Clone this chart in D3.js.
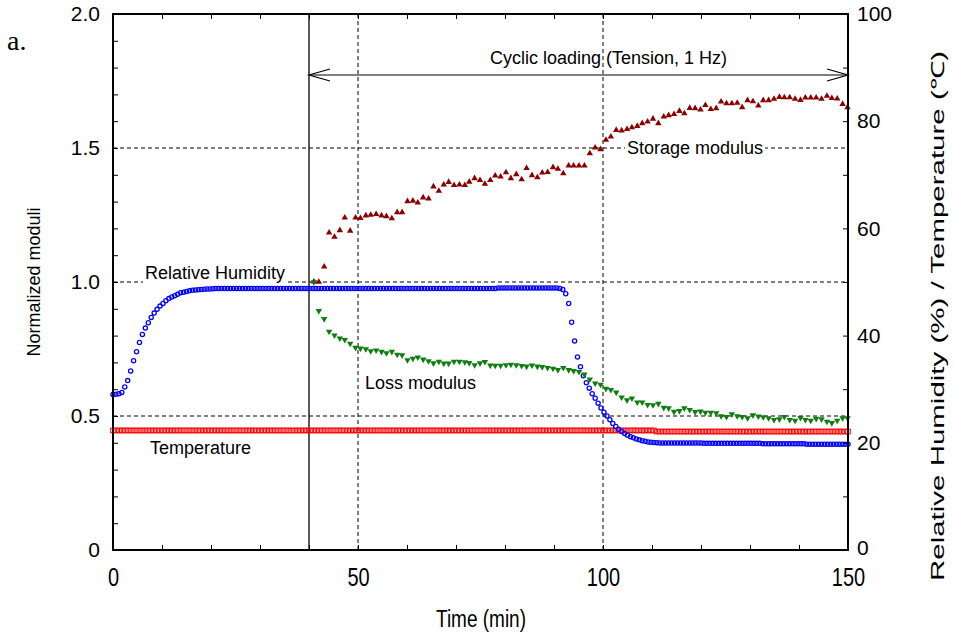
<!DOCTYPE html>
<html><head><meta charset="utf-8">
<script src="https://cdn.jsdelivr.net/npm/d3@7"></script>
<style>
body{margin:0;background:#fff;}
svg text{font-family:"Liberation Sans",Arial,sans-serif;fill:#000;}
</style></head>
<body><svg id="c" width="954" height="633"></svg>
<script>
// ---- data ----
const xTickLabels = [0, 50, 100, 150];
const yLeftLabels = [0, 0.5, 1.0, 1.5, 2.0];
const yRightLabels = [0, 20, 40, 60, 80, 100];
const gridY = [0.5, 1.0, 1.5];
const gridX = [50, 100];
const loadStart = 40;

// relative humidity (%) and temperature (C), sampled every envStep minutes from t=0
const envStep = 0.6;
const rh = [
29.0,29.05,29.15,29.4,30.4,31.6,33.4,35.3,37.0,38.7,
40.2,41.4,42.4,43.4,44.2,44.9,45.5,46.0,46.5,46.9,
47.2,47.45,47.7,48.0,48.1,48.25,48.35,48.45,48.5,48.55,
48.6,48.65,48.7,48.7,48.75,48.8,48.8,48.8,48.8,48.8,
48.8,48.8,48.8,48.8,48.8,48.8,48.8,48.8,48.8,48.8,
48.8,48.8,48.8,48.8,48.8,48.8,48.8,48.8,48.8,48.8,
48.8,48.8,48.8,48.8,48.8,48.8,48.8,48.8,48.8,48.8,
48.8,48.8,48.8,48.8,48.8,48.8,48.8,48.8,48.8,48.8,
48.8,48.8,48.8,48.8,48.8,48.8,48.8,48.8,48.8,48.8,
48.8,48.8,48.8,48.8,48.8,48.8,48.8,48.8,48.8,48.8,
48.8,48.8,48.8,48.8,48.8,48.8,48.8,48.8,48.8,48.8,
48.8,48.8,48.8,48.8,48.8,48.8,48.8,48.8,48.8,48.8,
48.8,48.8,48.8,48.8,48.8,48.8,48.8,48.8,48.8,48.8,
48.8,48.9,48.9,48.9,48.9,48.9,48.9,48.9,48.9,48.9,
48.9,48.9,48.9,48.9,48.9,48.9,48.9,48.9,48.9,48.9,
48.9,48.9,48.8,48.6,47.8,46.0,42.5,39.0,36.0,34.2,
32.5,31.2,30.2,29.15,28.3,27.4,26.5,25.7,25.0,24.3,
23.6,23.05,22.55,22.1,21.75,21.4,21.15,20.95,20.7,20.55,
20.4,20.3,20.15,20.1,20.05,20.0,19.95,19.95,19.95,19.95,
19.95,19.95,19.95,19.95,19.95,19.95,19.95,19.95,19.95,19.95,
19.95,19.9,19.9,19.9,19.9,19.9,19.9,19.9,19.9,19.9,
19.9,19.9,19.9,19.9,19.9,19.9,19.9,19.9,19.9,19.9,
19.9,19.8,19.8,19.8,19.8,19.8,19.8,19.8,19.8,19.8,
19.8,19.8,19.8,19.8,19.8,19.8,19.75,19.75,19.75,19.75,
19.75,19.75,19.75,19.75,19.75,19.75,19.75,19.75,19.75,19.75,
19.75
];
const temp = [
22.3,22.3,22.3,22.3,22.3,22.3,22.3,22.3,22.3,22.3,
22.3,22.3,22.3,22.3,22.3,22.3,22.3,22.3,22.3,22.3,
22.3,22.3,22.3,22.3,22.3,22.3,22.3,22.3,22.3,22.3,
22.3,22.3,22.3,22.3,22.3,22.3,22.3,22.3,22.3,22.3,
22.3,22.3,22.3,22.3,22.3,22.3,22.3,22.3,22.3,22.3,
22.3,22.3,22.3,22.3,22.3,22.3,22.3,22.3,22.3,22.3,
22.3,22.3,22.3,22.3,22.3,22.3,22.3,22.3,22.3,22.3,
22.3,22.3,22.3,22.3,22.3,22.3,22.3,22.3,22.3,22.3,
22.3,22.3,22.3,22.3,22.3,22.3,22.3,22.3,22.3,22.3,
22.3,22.3,22.3,22.3,22.3,22.3,22.3,22.3,22.3,22.3,
22.3,22.3,22.3,22.3,22.3,22.3,22.3,22.3,22.3,22.3,
22.3,22.3,22.3,22.3,22.3,22.3,22.3,22.3,22.3,22.3,
22.3,22.3,22.3,22.3,22.3,22.3,22.3,22.3,22.3,22.3,
22.3,22.3,22.3,22.3,22.3,22.3,22.3,22.3,22.3,22.3,
22.3,22.3,22.3,22.3,22.3,22.3,22.3,22.3,22.3,22.3,
22.3,22.3,22.3,22.3,22.3,22.3,22.3,22.3,22.3,22.3,
22.3,22.3,22.3,22.3,22.3,22.3,22.3,22.3,22.3,22.3,
22.3,22.3,22.3,22.3,22.3,22.3,22.3,22.3,22.3,22.3,
22.3,22.3,22.3,22.3,22.3,22.1,22.1,22.1,22.1,22.1,
22.1,22.1,22.1,22.1,22.1,22.1,22.1,22.1,22.1,22.1,
22.1,22.1,22.1,22.1,22.1,22.1,22.1,22.1,22.1,22.1,
22.1,22.1,22.1,22.1,22.1,22.1,22.1,22.1,22.1,22.1,
22.1,22.1,22.1,22.1,22.1,22.1,22.1,22.1,22.1,22.1,
22.1,22.1,22.1,22.1,22.1,22.1,22.1,22.1,22.1,22.1,
22.1,22.1,22.1,22.1,22.1,22.1,22.1,22.1,22.1,22.1,
22.1
];

// normalized moduli during cyclic loading
const modTime = [
41.0,42.0,43.1,44.1,45.2,46.3,47.3,48.4,49.5,50.5,
51.6,52.6,53.7,54.8,55.8,56.9,58.0,59.0,60.1,61.2,
62.2,63.3,64.4,65.4,66.5,67.5,68.5,69.6,70.7,71.8,
72.7,73.8,74.9,75.9,77.0,78.0,79.1,80.2,81.2,82.3,
83.4,84.4,85.5,86.6,87.6,88.7,89.8,90.8,91.9,93.0,
94.0,95.1,96.2,97.3,98.4,99.5,100.6,101.6,102.7,103.8,
104.9,105.9,107.0,108.0,109.1,110.2,111.3,112.4,113.4,114.5,
115.6,116.6,117.7,118.8,119.9,120.9,122.0,123.1,124.1,125.2,
126.3,127.4,128.4,129.5,130.6,131.7,132.7,133.8,134.9,136.0,
137.0,138.1,139.2,140.3,141.3,142.4,143.5,144.6,145.7,146.7,
147.8,148.9,149.9
];
const storage = [
1.001,1.000,1.057,1.184,1.168,1.193,1.240,1.191,1.240,1.238,
1.248,1.250,1.253,1.248,1.245,1.237,1.260,1.260,1.301,1.303,
1.296,1.315,1.311,1.356,1.340,1.363,1.373,1.361,1.363,1.361,
1.374,1.387,1.380,1.366,1.380,1.397,1.393,1.409,1.387,1.402,
1.383,1.425,1.398,1.390,1.408,1.410,1.428,1.422,1.405,1.434,
1.434,1.434,1.434,1.480,1.501,1.495,1.530,1.542,1.567,1.565,
1.570,1.577,1.582,1.592,1.598,1.609,1.592,1.617,1.622,1.626,
1.638,1.629,1.649,1.648,1.643,1.660,1.645,1.648,1.673,1.666,
1.666,1.668,1.652,1.678,1.674,1.658,1.678,1.678,1.683,1.690,
1.689,1.689,1.683,1.679,1.688,1.688,1.688,1.683,1.694,1.686,
1.684,1.664,1.652
];
const loss = [
1.000,0.892,0.862,0.815,0.801,0.790,0.784,0.770,0.755,0.752,
0.750,0.742,0.745,0.740,0.735,0.740,0.729,0.727,0.709,0.714,
0.719,0.711,0.705,0.697,0.703,0.696,0.696,0.703,0.703,0.701,
0.698,0.690,0.697,0.702,0.689,0.688,0.688,0.690,0.692,0.690,
0.687,0.685,0.689,0.685,0.683,0.680,0.677,0.672,0.680,0.672,
0.668,0.665,0.655,0.637,0.622,0.617,0.602,0.598,0.588,0.570,
0.559,0.566,0.551,0.551,0.542,0.541,0.546,0.531,0.529,0.516,
0.519,0.529,0.523,0.515,0.517,0.513,0.513,0.511,0.500,0.497,
0.507,0.500,0.497,0.492,0.503,0.499,0.496,0.492,0.486,0.488,
0.497,0.486,0.483,0.493,0.486,0.483,0.490,0.488,0.479,0.474,
0.483,0.492,0.492
];

// ---- chart ----
const svg = d3.select("#c");
const L = 113, R = 848, T = 14, B = 550;
const x = d3.scaleLinear().domain([0, 150]).range([L, R]);
const yL = d3.scaleLinear().domain([0, 2]).range([B, T]);
const yR = d3.scaleLinear().domain([0, 100]).range([B, T]);

// grid (dashed)
const grid = svg.append("g").attr("stroke", "#000").attr("stroke-width", 1).attr("stroke-dasharray", "4,3");
gridY.forEach(v => grid.append("line").attr("x1", L).attr("x2", R).attr("y1", yL(v)).attr("y2", yL(v)));
gridX.forEach(v => grid.append("line").attr("x1", x(v)).attr("x2", x(v)).attr("y1", T).attr("y2", B));

// loading start line
svg.append("line").attr("x1", x(loadStart)).attr("x2", x(loadStart)).attr("y1", T).attr("y2", B)
  .attr("stroke", "#000").attr("stroke-width", 1.3);

// arrow
const ay = 75;
const arr = svg.append("g").attr("stroke", "#000").attr("stroke-width", 1.2).attr("fill", "none");
arr.append("line").attr("x1", x(loadStart)).attr("x2", x(150)).attr("y1", ay).attr("y2", ay);
arr.append("path").attr("d", `M${x(loadStart)+21},${ay-6}L${x(loadStart)},${ay}L${x(loadStart)+21},${ay+6}`);
arr.append("path").attr("d", `M${x(150)-21},${ay-6}L${x(150)},${ay}L${x(150)-21},${ay+6}`);
svg.append("text").attr("x", 490).attr("y", 64).attr("font-size", 18).text("Cyclic loading (Tension, 1 Hz)");

// labels with white background
function boxLabel(txt, tx, ty, bg) {
  const t = svg.append("text").attr("x", tx).attr("y", ty).attr("font-size", 18).text(txt);
  if (bg) {
    const bb = t.node().getBBox();
    svg.insert("rect", "text").attr("x", bb.x - 2).attr("y", bb.y).attr("width", bb.width + 4).attr("height", bb.height).attr("fill", "#fff");
  }
}
boxLabel("Relative Humidity", 145, 279, true);
boxLabel("Storage modulus", 627, 154, true);
boxLabel("Loss modulus", 365, 389, false);
boxLabel("Temperature", 150, 454, false);

// temperature (open squares)
const envIdx = d3.range(rh.length);
svg.append("g").selectAll("rect").data(envIdx).join("rect")
  .attr("x", i => x(i * envStep) - 2.3).attr("y", i => yR(temp[i]) - 2.3)
  .attr("width", 4.6).attr("height", 4.6)
  .attr("fill", "none").attr("stroke", "#ff0000").attr("stroke-width", 1);

// RH (open circles)
svg.append("g").selectAll("circle").data(envIdx).join("circle")
  .attr("cx", i => x(i * envStep)).attr("cy", i => yR(rh[i])).attr("r", 2.1)
  .attr("fill", "none").attr("stroke", "#0000ff").attr("stroke-width", 1.3);

// storage (up triangles)
const tri = d3.symbol().type(d3.symbolTriangle).size(18);
svg.append("g").selectAll("path").data(modTime.map((t, i) => i)).join("path")
  .attr("d", tri).attr("transform", i => `translate(${x(modTime[i])},${yL(storage[i])})`)
  .attr("fill", "#8b0000");
// loss (down triangles)
svg.append("g").selectAll("path").data(modTime.map((t, i) => i)).join("path")
  .attr("d", tri).attr("transform", i => `translate(${x(modTime[i])},${yL(loss[i])}) rotate(180)`)
  .attr("fill", "#0e7f0e");

// axes
const fmtX = d => xTickLabels.includes(d) ? d : "";
const ax = fs => g => { g.select(".domain").remove(); g.selectAll("text").attr("font-size", fs).attr("font-family", "Liberation Sans, Arial, sans-serif"); };
const xb = svg.append("g").attr("transform", `translate(0,${B})`)
  .call(d3.axisBottom(x).tickValues(d3.range(0, 151, 10)).tickFormat(fmtX).tickSizeInner(-5).tickSizeOuter(0)).call(ax(20));
// stretched (tall) bottom tick labels as in the reference
xb.selectAll(".tick text").attr("y", 0).attr("dy", 0).attr("transform", "translate(0,36) scale(1,1.3)");
svg.append("g").attr("transform", `translate(0,${T})`)
  .call(d3.axisTop(x).tickValues(d3.range(0, 151, 10)).tickFormat("").tickSizeInner(-5).tickSizeOuter(0)).call(ax(20));
svg.append("g").attr("transform", `translate(${L},0)`)
  .call(d3.axisLeft(yL).tickValues(d3.range(0, 21, 1).map(v => v / 10))
    .tickFormat(d => yLeftLabels.some(v => Math.abs(v - d) < 1e-9) ? (d === 0 ? "0" : d3.format(".1f")(d)) : "")
    .tickSizeInner(-5).tickSizeOuter(0).tickPadding(13)).call(ax(21));
const yr = svg.append("g").attr("transform", `translate(${R},0)`)
  .call(d3.axisRight(yR).tickValues(d3.range(0, 101, 10))
    .tickFormat(d => yRightLabels.includes(d) ? d : "")
    .tickSizeInner(-5).tickSizeOuter(0).tickPadding(9)).call(ax(21));
yr.selectAll(".tick text").filter(d => d === 0).attr("dy", "0.2em");

// frame
svg.append("rect").attr("x", L).attr("y", T).attr("width", R - L).attr("height", B - T)
  .attr("fill", "none").attr("stroke", "#000").attr("stroke-width", 2);

// titles
svg.append("g").attr("transform", "translate(481,627) scale(1,1.3)")
  .append("text").attr("text-anchor", "middle").attr("font-size", 19).text("Time (min)");
svg.append("text").attr("transform", "translate(40,282) rotate(-90)").attr("text-anchor", "middle").attr("font-size", 18).text("Normalized moduli");
svg.append("text").attr("transform", "translate(944,316) rotate(-90)").attr("text-anchor", "middle").attr("font-size", 18)
  .attr("textLength", 530).attr("lengthAdjust", "spacingAndGlyphs").text("Relative Humidity (%) / Temperature (℃)");
svg.append("text").attr("x", 7).attr("y", 50).attr("font-size", 28).style("font-family", "Liberation Serif, Times New Roman, serif").text("a.");
</script></body></html>
